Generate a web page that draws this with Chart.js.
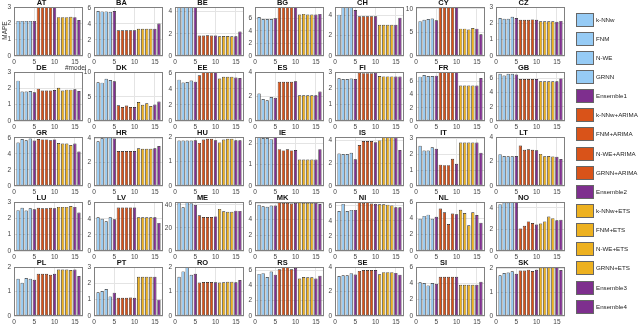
<!DOCTYPE html>
<html>
<head>
<meta charset="utf-8">
<script src="https://cdn.jsdelivr.net/npm/chart.js@4.4.1/dist/chart.umd.min.js"></script>
<style>
body { margin: 0; width: 640px; height: 329px; background: #fff; position: relative; overflow: hidden;
       font-family: "Liberation Sans", Arial, sans-serif; }
canvas { position: absolute; }
.lab { position: absolute; font-size: 6.5px; color: #333; white-space: nowrap; }
.key { position: absolute; left: 576px; width: 18px; height: 14px; box-sizing: border-box; border: 1px solid #666; }
.keytxt { position: absolute; left: 596px; font-size: 6.2px; color: #222; line-height: 14px; white-space: nowrap; }
</style>
</head>
<body>
<script>
// models on the x axis (#model 1..16)
var models = ['k-NNw', 'FNM', 'N-WE', 'GRNN', 'Ensemble1',
      'k-NNw+ARIMA', 'FNM+ARIMA', 'N-WE+ARIMA', 'GRNN+ARIMA', 'Ensemble2',
      'k-NNw+ETS', 'FNM+ETS', 'N-WE+ETS', 'GRNN+ETS', 'Ensemble3', 'Ensemble4']
var modelNo = [1, 2, 3, 4, 5, 6, 7, 8, 9, 10, 11, 12, 13, 14, 15, 16]
var blue = '#96cbf5', orange = '#d95319', yellow = '#edb120', purple = '#7e2f8e'
var modelColors = [blue, blue, blue, blue, purple,
      orange, orange, orange, orange, purple,
      yellow, yellow, yellow, yellow, purple, purple]

var countries = ['AT', 'BA', 'BE', 'BG', 'CH', 'CY', 'CZ',
      'DE', 'DK', 'EE', 'ES', 'FI', 'FR', 'GB',
      'GR', 'HR', 'HU', 'IE', 'IS', 'IT', 'LT',
      'LU', 'LV', 'ME', 'MK', 'NI', 'NL', 'NO',
      'PL', 'PT', 'RO', 'RS', 'SE', 'SI', 'SK']
// axis upper limits and tick steps per country
var yMax = [3, 6.1, 4.4, 7.8, 4.8, 10.4, 3,
      3, 10.1, 6.1, 4, 3, 7.4, 6.9,
      6.1, 4.1, 2, 2.3, 4.3, 3.1, 4,
      3, 6.1, 42.5, 6.2, 6.5, 6, 4.55,
      2, 3, 2, 6.4, 4, 6, 2.05]
var yStep = [1, 2, 2, 2, 2, 5, 1,
      1, 5, 2, 2, 1, 2, 2,
      2, 2, 1, 1, 2, 1, 2,
      1, 2, 20, 2, 2, 2, 2,
      1, 1, 1, 2, 2, 2, 1]

// MAPE per model
var AT = [2.15, 2.15, 2.15, 2.15, 2.15, 3.2, 3.2, 3.2, 3.2, 3.2, 2.38, 2.38, 2.38, 2.4, 2.38, 2.2]
var BA = [5.6, 5.55, 5.55, 5.5, 5.6, 3.2, 3.2, 3.2, 3.2, 3.2, 3.4, 3.4, 3.4, 3.4, 3.4, 4.05]
var BE = [4.6, 4.6, 4.6, 4.6, 4.6, 1.84, 1.84, 1.86, 1.84, 1.84, 1.78, 1.8, 1.8, 1.78, 1.78, 2.2]
var BG = [6.2, 5.9, 5.9, 5.9, 6.0, 8.2, 8.2, 8.2, 8.2, 8.2, 6.6, 6.7, 6.6, 6.6, 6.6, 6.7]
var CH = [4.05, 5.0, 5.0, 5.0, 4.5, 3.9, 3.9, 3.9, 3.9, 3.9, 3.05, 3.05, 3.05, 3.05, 3.05, 3.75]
var CY = [7.4, 7.7, 7.85, 7.95, 7.6, 11, 11, 11, 11, 11, 5.8, 5.8, 5.65, 5.95, 5.8, 4.6]
var CZ = [2.32, 2.28, 2.28, 2.4, 2.32, 2.22, 2.22, 2.22, 2.24, 2.22, 2.12, 2.12, 2.12, 2.12, 2.1, 2.15]
var DE = [2.47, 1.8, 1.8, 1.83, 1.76, 1.98, 1.87, 1.87, 1.87, 1.9, 2.03, 1.87, 1.92, 1.92, 1.94, 1.84]
var DK = [8.0, 7.9, 8.7, 8.45, 8.2, 3.25, 2.9, 3.2, 2.9, 2.9, 3.9, 3.35, 3.65, 3.1, 3.4, 4.0]
var EE = [5.15, 4.8, 4.85, 5.05, 4.9, 5.7, 6.2, 6.2, 6.2, 6.2, 5.3, 5.5, 5.5, 5.5, 5.4, 5.35]
var ES = [2.25, 1.8, 1.7, 1.95, 1.9, 3.2, 3.2, 3.2, 3.2, 3.25, 2.1, 2.1, 2.1, 2.1, 2.1, 2.4]
var FI = [2.62, 2.57, 2.57, 2.6, 2.57, 2.97, 2.93, 2.93, 2.93, 2.97, 2.75, 2.73, 2.73, 2.73, 2.72, 2.72]
var FR = [6.7, 6.95, 6.8, 6.8, 6.85, 7.8, 7.8, 7.8, 7.8, 7.8, 5.35, 5.35, 5.35, 5.35, 5.35, 6.5]
var GB = [6.65, 6.4, 6.65, 6.65, 6.55, 5.9, 5.9, 5.9, 5.9, 5.9, 5.6, 5.6, 5.6, 5.6, 5.6, 6.0]
var GR = [5.4, 5.85, 5.7, 5.9, 5.65, 5.85, 5.8, 5.8, 5.7, 5.8, 5.35, 5.3, 5.3, 5.1, 5.3, 4.3]
var HR = [3.75, 4.0, 4.08, 4.1, 3.97, 2.92, 2.92, 2.92, 2.92, 2.92, 3.15, 3.12, 3.12, 3.12, 3.15, 3.35]
var HU = [1.86, 1.86, 1.86, 1.86, 1.87, 1.76, 1.9, 1.93, 1.93, 1.87, 1.78, 1.9, 1.93, 1.93, 1.87, 1.87]
var IE = [2.3, 2.25, 2.25, 2.2, 2.3, 1.73, 1.67, 1.72, 1.67, 1.69, 1.24, 1.24, 1.24, 1.24, 1.24, 1.73]
var IS = [2.85, 2.8, 2.8, 2.92, 2.35, 3.6, 3.95, 3.95, 3.95, 3.85, 4.0, 4.3, 4.3, 4.3, 4.25, 3.15]
var IT = [2.55, 2.25, 2.25, 2.45, 2.35, 1.35, 1.32, 1.32, 1.72, 1.4, 2.75, 2.75, 2.75, 2.75, 2.75, 2.1]
var LT = [2.6, 2.45, 2.42, 2.42, 2.45, 3.3, 2.95, 3.0, 2.95, 2.92, 2.62, 2.42, 2.45, 2.4, 2.38, 2.2]
var LU = [2.5, 2.65, 2.48, 2.62, 2.55, 2.65, 2.62, 2.62, 2.65, 2.62, 2.7, 2.7, 2.7, 2.75, 2.7, 2.35]
var LV = [4.2, 4.0, 3.7, 4.2, 3.95, 5.4, 5.4, 5.4, 5.4, 5.4, 4.2, 4.2, 4.2, 4.2, 4.2, 3.5]
var ME = [42, 38, 43, 41.5, 40, 31, 29.5, 29.5, 29.5, 30, 36.5, 34.5, 34, 34, 35, 34.8]
var MK = [5.85, 5.65, 5.6, 5.75, 5.75, 6.15, 6.1, 6.1, 6.0, 6.1, 6.15, 6.1, 6.1, 6.1, 6.1, 5.95]
var NI = [5.3, 6.25, 5.3, 5.45, 5.45, 6.6, 6.4, 6.45, 6.3, 6.25, 6.2, 6.2, 6.15, 6.05, 5.8, 5.8]
var NL = [3.95, 4.3, 4.45, 3.95, 4.2, 5.2, 4.75, 3.3, 4.6, 4.5, 5.05, 4.65, 3.15, 4.75, 4.4, 3.45]
var NO = [4.35, 4.5, 4.5, 4.6, 4.6, 2.1, 2.35, 2.75, 2.6, 2.45, 2.55, 2.75, 3.2, 3.05, 2.85, 2.9]
var PL = [1.52, 1.36, 1.55, 1.52, 1.48, 1.72, 1.72, 1.72, 1.68, 1.72, 1.9, 1.9, 1.9, 1.88, 1.9, 1.63]
var PT = [1.45, 1.53, 1.65, 1.2, 1.43, 1.11, 1.11, 1.11, 1.13, 1.11, 2.4, 2.4, 2.4, 2.4, 2.4, 1.0]
var RO = [1.6, 1.82, 2.0, 1.68, 1.72, 1.37, 1.39, 1.39, 1.39, 1.38, 1.37, 1.38, 1.4, 1.4, 1.38, 1.47]
var RS = [5.5, 5.6, 5.1, 5.8, 5.4, 6.1, 6.5, 6.5, 6.1, 6.3, 4.9, 5.1, 5.05, 5.05, 4.9, 5.25]
var SE = [3.27, 3.33, 3.33, 3.5, 3.38, 3.68, 3.75, 3.75, 3.75, 3.75, 3.4, 3.58, 3.58, 3.58, 3.52, 3.36]
var SI = [4.12, 4.03, 3.75, 4.03, 3.95, 4.8, 4.8, 4.8, 4.8, 4.8, 3.83, 3.83, 3.83, 3.83, 3.83, 4.2]
var SK = [1.7, 1.8, 1.82, 1.87, 1.77, 1.9, 1.9, 1.94, 1.88, 1.93, 2.1, 2.1, 2.1, 2.1, 2.1, 1.92]

var mape = [AT, BA, BE, BG, CH, CY, CZ, DE, DK, EE, ES, FI, FR, GB, GR, HR, HU, IE, IS, IT, LT,
      LU, LV, ME, MK, NI, NL, NO, PL, PT, RO, RS, SE, SI, SK]

var font = '"Liberation Sans", Arial, sans-serif'

// box around each axes (MATLAB style)
var boxPlugin = {
      id: 'axbox',
      afterDatasetsDraw: function(chart) {
            var a = chart.chartArea, ctx = chart.ctx
            ctx.save()
            ctx.strokeStyle = '#808080'
            ctx.lineWidth = 1
            ctx.strokeRect(a.left + 0.5, a.top + 0.5, a.right - a.left - 1, a.bottom - a.top - 1)
            ctx.restore()
      }
}

countries.forEach(function(name, i) {
      var col = i % 7, row = Math.floor(i / 7)
      var cv = document.createElement('canvas')
      cv.width = 88
      cv.height = 67
      cv.style.width = '88px'
      cv.style.height = '67px'
      cv.style.left = Math.round(80.3 * col) + 'px'
      cv.style.top = Math.round(6.7 + 65 * row - 8) + 'px'
      document.body.appendChild(cv)

      new Chart(cv, {
            type: 'bar',
            data: {
                  datasets: [{
                        data: mape[i].map(function(v, k) { return {x: modelNo[k], y: v} }),
                        backgroundColor: modelColors,
                        borderColor: '#1a1a1a',
                        borderWidth: 0.7,
                        borderSkipped: false,
                        categoryPercentage: 1,
                        barPercentage: 0.8,
                        clip: 0
                  }]
            },
            options: {
                  responsive: false,
                  animation: false,
                  devicePixelRatio: 1,
                  layout: { padding: { left: 0, right: 5, top: 0, bottom: 0 } },
                  plugins: {
                        legend: { display: false },
                        tooltip: { enabled: false },
                        title: {
                              display: true,
                              text: name,
                              color: '#111',
                              font: { family: font, size: 7.5, weight: 'bold', lineHeight: 1 },
                              padding: { top: 0, bottom: 0.5 }
                        }
                  },
                  scales: {
                        x: {
                              type: 'linear',
                              min: 0,
                              max: 17,
                              offset: false,
                              border: { display: false },
                              grid: { color: '#e4e4e4', drawTicks: false, offset: false },
                              ticks: { stepSize: 5, includeBounds: false, padding: 2, maxRotation: 0,
                                    color: '#444', font: { family: font, size: 6.5 } },
                              afterFit: function(s) { s.height = 10 }
                        },
                        y: {
                              min: 0,
                              max: yMax[i],
                              border: { display: false },
                              grid: { color: '#e4e4e4', drawTicks: false },
                              ticks: { stepSize: yStep[i], includeBounds: false, padding: 3,
                                    color: '#444', font: { family: font, size: 6.5 } },
                              afterFit: function(s) { s.width = 14 }
                        }
                  }
            },
            plugins: [boxPlugin]
      })
})

// axis labels of the first panel
var yl = document.createElement('div')
yl.className = 'lab'
yl.textContent = 'MAPE'
yl.style.left = '-6px'
yl.style.top = '27px'
yl.style.width = '20px'
yl.style.textAlign = 'center'
yl.style.transform = 'rotate(-90deg)'
document.body.appendChild(yl)

var xl = document.createElement('div')
xl.className = 'lab'
xl.textContent = '#model'
xl.style.left = '65px'
xl.style.top = '64px'
document.body.appendChild(xl)

// legend
models.forEach(function(m, k) {
      var top = 12.7 + 19.13 * k
      var box = document.createElement('div')
      box.className = 'key'
      box.style.top = top + 'px'
      box.style.background = modelColors[k]
      document.body.appendChild(box)
      var t = document.createElement('div')
      t.className = 'keytxt'
      t.style.top = top + 'px'
      t.textContent = m
      document.body.appendChild(t)
})
</script>
</body>
</html>
